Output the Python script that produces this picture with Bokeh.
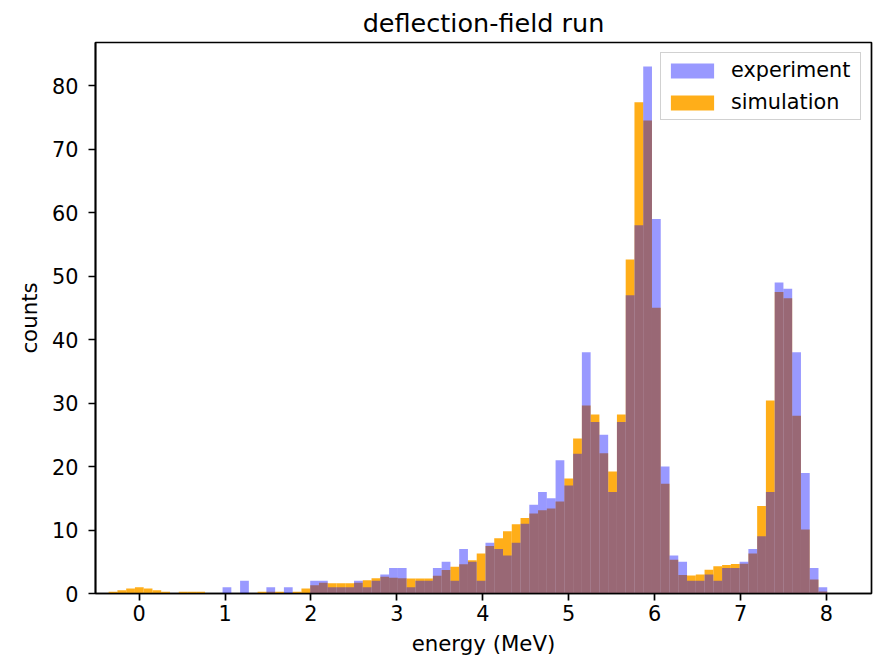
import numpy as np
from bokeh.plotting import figure
from bokeh.models import Range1d, FixedTicker, Legend, LegendItem, ColumnDataSource
from bokeh.embed import file_html
from bokeh.resources import INLINE

# ---- data ----
bin_lo = -0.355          # MeV, left edge of first bin
bin_width = 0.102        # MeV
n_bins = 82

experiment = [0, 0, 0, 0, 0, 0, 0, 0, 0, 0,
              0, 0, 0, 1, 0, 2, 0, 0, 1, 0,
              1, 0, 0, 2, 2, 1, 1, 1, 2, 1,
              2, 3, 4, 4, 1, 2, 2, 4, 5, 2,
              7, 5, 2, 8, 7, 6, 8, 11, 14, 16,
              15, 21, 17, 22, 38, 27, 25, 16, 27, 47,
              58, 83, 59, 20, 6, 5, 2, 2, 3, 2,
              4, 4, 5, 7, 9, 16, 49, 48, 38, 19,
              4, 1]

simulation = [0.27, 0.5, 0.8, 1.0, 0.8, 0.5, 0.27, 0, 0.27, 0.27,
              0.27, 0, 0, 0, 0, 0, 0, 0.27, 0.27, 0.27,
              0, 0.27, 0.8, 1.3, 1.7, 1.6, 1.6, 1.6, 1.7, 2.1,
              2.4, 2.65, 2.5, 2.4, 2.35, 2.35, 2.35, 2.8, 3.7, 4.2,
              4.6, 5.25, 6.3, 7.5, 8.7, 9.8, 10.9, 11.9, 12.6, 13.1,
              13.4, 14.5, 18.1, 24.4, 29.6, 28.2, 22.1, 19.2, 28.2, 52.6,
              77.4, 74.5, 45.0, 17.3, 5.3, 2.9, 2.85, 3.0, 3.75, 4.3,
              4.5, 4.65, 4.7, 6.3, 13.8, 30.4, 47.5, 46.5, 28.0, 10.1,
              2.2, 0.3]

x_ticks = [0, 1, 2, 3, 4, 5, 6, 7, 8]
y_ticks = [0, 10, 20, 30, 40, 50, 60, 70, 80]

edges = bin_lo + bin_width * np.arange(n_bins + 1)
left = edges[:-1]
right = edges[1:]

src = ColumnDataSource(dict(left=left, right=right,
                            exp=np.array(experiment, dtype=float),
                            sim=np.array(simulation, dtype=float)))

FONT = "DejaVu Sans"
TICK_FS = "20.8px"

p = figure(frame_width=776, frame_height=551,
           min_border_left=95, min_border_right=3, min_border_top=42, min_border_bottom=64,
           x_range=Range1d(-0.508, 8.524), y_range=Range1d(0, 86.8),
           output_backend="svg", toolbar_location=None,
           title="deflection-field run")

r_sim = p.quad(left="left", right="right", bottom=0, top="sim", source=src,
               fill_color="orange", fill_alpha=0.9, line_color=None)
r_exp = p.quad(left="left", right="right", bottom=0, top="exp", source=src,
               fill_color="blue", fill_alpha=0.4, line_color=None)

# title
p.title.align = "center"
p.title.vertical_align = "top"
p.title.text_font = FONT
p.title.text_font_size = "25.5px"
p.title.text_font_style = "normal"
p.title.text_color = "black"
p.title.standoff = 5

# grid / outline
p.xgrid.visible = False
p.ygrid.visible = False
p.outline_line_color = "black"
p.outline_line_width = 1.7
p.outline_line_alpha = 1

for ax in (p.xaxis[0], p.yaxis[0]):
    ax.axis_line_color = "black"
    ax.axis_line_width = 1.7
    ax.major_tick_line_color = "black"
    ax.major_tick_line_width = 1.7
    ax.major_tick_out = 7
    ax.major_tick_in = 0
    ax.minor_tick_line_color = None
    ax.major_label_text_font = FONT
    ax.major_label_text_font_size = TICK_FS
    ax.major_label_text_color = "black"
    ax.axis_label_text_font = FONT
    ax.axis_label_text_font_size = "21.3px"
    ax.axis_label_text_font_style = "normal"
    ax.axis_label_text_color = "black"

p.xaxis[0].ticker = FixedTicker(ticks=x_ticks)
p.yaxis[0].ticker = FixedTicker(ticks=y_ticks)
p.xaxis[0].axis_label = "energy (MeV)"
p.yaxis[0].axis_label = "counts"
p.xaxis[0].major_label_standoff = 4
p.xaxis[0].axis_label_standoff = 7
p.yaxis[0].major_label_standoff = 10
p.yaxis[0].axis_label_standoff = 7

legend = Legend(items=[LegendItem(label="experiment", renderers=[r_exp]),
                       LegendItem(label="simulation", renderers=[r_sim])],
                location="top_right", margin=10, padding=4, spacing=6,
                glyph_width=54, glyph_height=19, label_height=26,
                label_width=125, label_standoff=12,
                label_text_font=FONT, label_text_font_size=TICK_FS,
                label_text_color="black",
                border_line_color="#cccccc", border_line_alpha=0.9,
                border_line_width=1.5,
                background_fill_alpha=0.8)
p.add_layout(legend)

open("out.html", "w").write(file_html(p, INLINE))
